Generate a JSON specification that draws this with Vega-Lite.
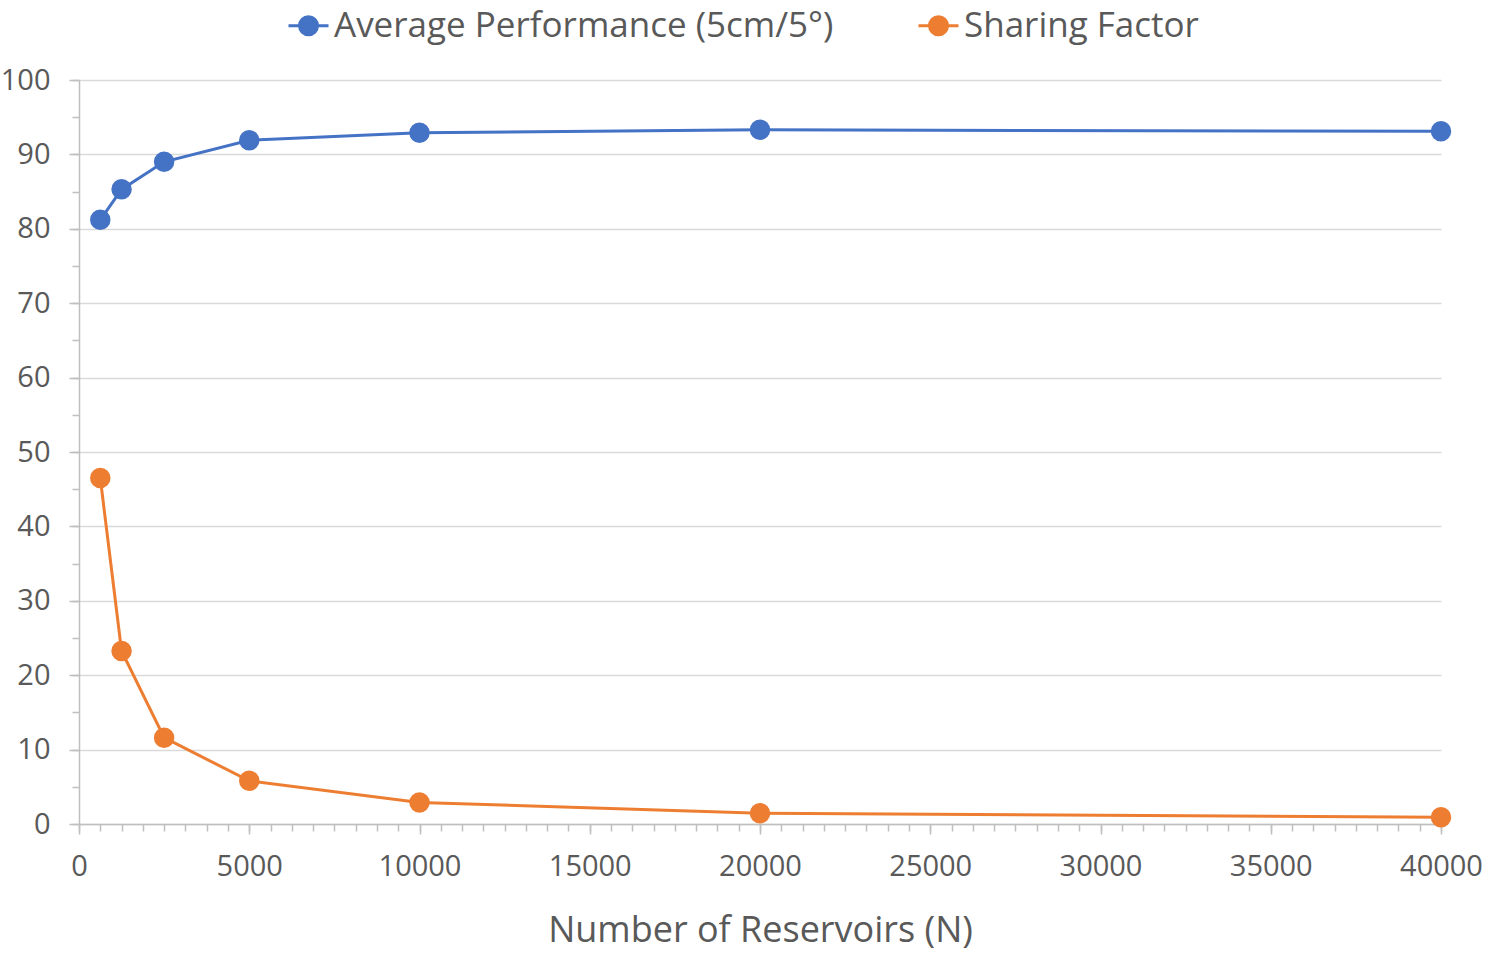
{
  "$schema": "https://vega.github.io/schema/vega-lite/v6.json",
  "width": 1362,
  "height": 744,
  "autosize": "none",
  "padding": {"left": 79, "top": 80, "right": 45, "bottom": 131},
  "background": "white",
  "config": {
    "view": {"stroke": null},
    "font": "Open Sans",
    "axis": {"labelFont": "Open Sans", "titleFont": "Open Sans", "labelColor": "#595959", "titleColor": "#595959", "labelFontSize": 29, "titleFontSize": 36, "titleFontWeight": "normal", "domainColor": "#BFBFBF", "tickColor": "#BFBFBF", "domainWidth": 1.5, "tickWidth": 1.5, "gridColor": "#D9D9D9", "gridWidth": 1.5}
  },
  "data": {
    "values": [
      {"N": 625, "series": "Average Performance (5cm/5°)", "value": 81.2},
      {"N": 1250, "series": "Average Performance (5cm/5°)", "value": 85.3},
      {"N": 2500, "series": "Average Performance (5cm/5°)", "value": 89.0},
      {"N": 5000, "series": "Average Performance (5cm/5°)", "value": 91.9},
      {"N": 10000, "series": "Average Performance (5cm/5°)", "value": 92.9},
      {"N": 20000, "series": "Average Performance (5cm/5°)", "value": 93.3},
      {"N": 40000, "series": "Average Performance (5cm/5°)", "value": 93.1},
      {"N": 625, "series": "Sharing Factor", "value": 46.5},
      {"N": 1250, "series": "Sharing Factor", "value": 23.25},
      {"N": 2500, "series": "Sharing Factor", "value": 11.6},
      {"N": 5000, "series": "Sharing Factor", "value": 5.8},
      {"N": 10000, "series": "Sharing Factor", "value": 2.9},
      {"N": 20000, "series": "Sharing Factor", "value": 1.45},
      {"N": 40000, "series": "Sharing Factor", "value": 0.9}
    ]
  },
  "resolve": {"axis": {"x": "independent", "y": "independent"}},
  "layer": [
    {
      "mark": {"type": "line", "strokeWidth": 3},
      "encoding": {
        "x": {"field": "N", "type": "quantitative", "scale": {"domain": [0, 40000], "nice": false},
          "axis": {"orient": "bottom", "values": [0, 5000, 10000, 15000, 20000, 25000, 30000, 35000, 40000], "format": "d", "grid": false, "tickSize": 10, "labelPadding": 18, "title": "Number of Reservoirs (N)", "titlePadding": 32, "labelFlush": false}},
        "y": {"field": "value", "type": "quantitative", "scale": {"domain": [0, 100], "nice": false},
          "axis": {"orient": "left", "values": [0, 10, 20, 30, 40, 50, 60, 70, 80, 90, 100], "grid": true, "tickSize": 10, "labelPadding": 19, "title": null, "domain": true}},
        "color": {"field": "series", "type": "nominal",
          "scale": {"domain": ["Average Performance (5cm/5°)", "Sharing Factor"], "range": ["#4472C4", "#ED7D31"]},
          "legend": {"orient": "none", "legendX": 208, "legendY": -76, "direction": "horizontal", "title": null,
            "labelFontSize": 35, "labelColor": "#595959", "labelFont": "Open Sans", "labelLimit": 0, "columnPadding": 78, "labelOffset": 4,
            "symbolType": "M-1,0L1,0M-0.45,0A0.45,0.45,0,1,0,0.45,0A0.45,0.45,0,1,0,-0.45,0Z",
            "symbolSize": 1600, "symbolStrokeWidth": 3,
            "encode": {"symbols": {"update": {"stroke": {"scale": "color", "field": "value"}, "fill": {"scale": "color", "field": "value"}, "opacity": {"value": 1}}}}}}
      }
    },
    {
      "mark": {"type": "point", "filled": true, "opacity": 1, "size": 420},
      "encoding": {
        "x": {"field": "N", "type": "quantitative",
          "axis": {"orient": "bottom", "values": [0,625,1250,1875,2500,3125,3750,4375,5000,5625,6250,6875,7500,8125,8750,9375,10000,10625,11250,11875,12500,13125,13750,14375,15000,15625,16250,16875,17500,18125,18750,19375,20000,20625,21250,21875,22500,23125,23750,24375,25000,25625,26250,26875,27500,28125,28750,29375,30000,30625,31250,31875,32500,33125,33750,34375,35000,35625,36250,36875,37500,38125,38750,39375,40000], "labels": false, "domain": false, "grid": false, "tickSize": 7, "title": null}},
        "y": {"field": "value", "type": "quantitative",
          "axis": {"orient": "left", "values": [0,5,10,15,20,25,30,35,40,45,50,55,60,65,70,75,80,85,90,95,100], "labels": false, "domain": false, "grid": false, "tickSize": 7, "title": null}},
        "color": {"field": "series", "type": "nominal", "legend": null}
      }
    }
  ]
}
